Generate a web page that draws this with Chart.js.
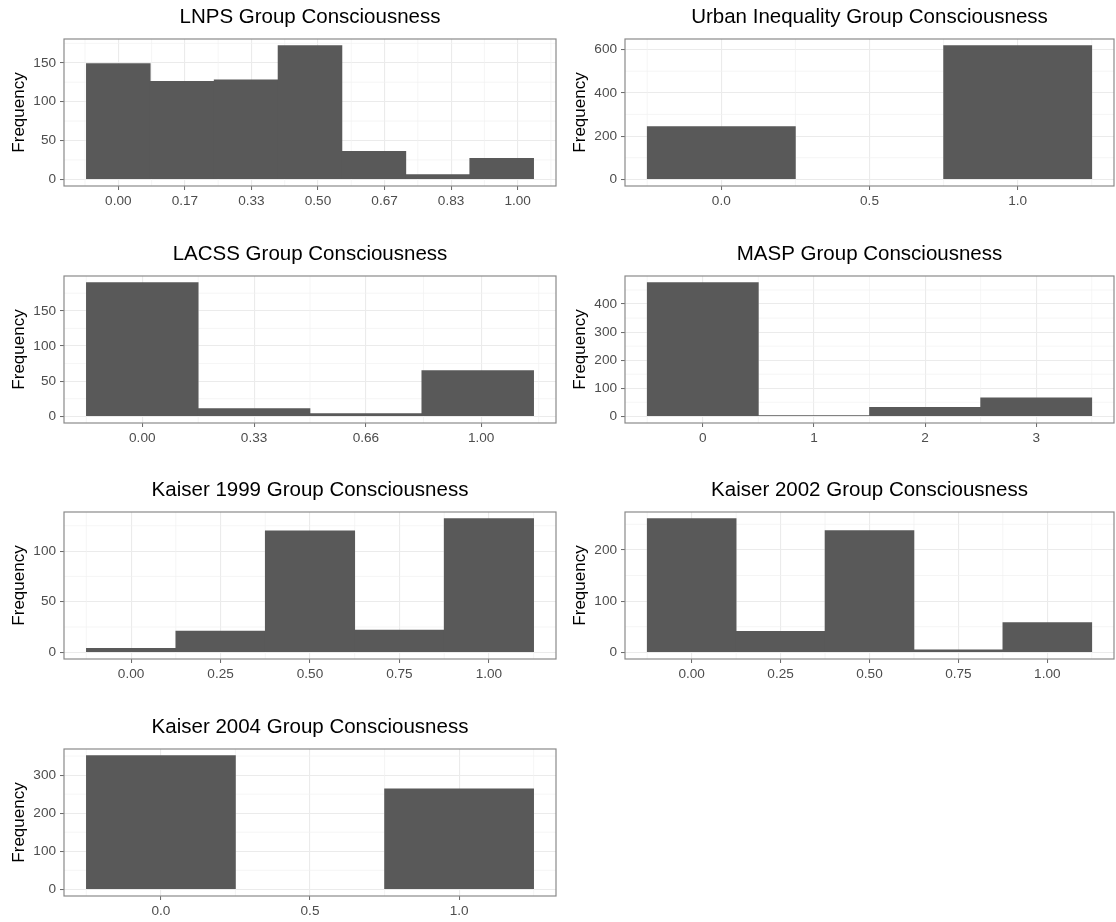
<!DOCTYPE html>
<html>
<head>
<meta charset="utf-8">
<title>Group Consciousness histograms</title>
<script src="https://cdn.jsdelivr.net/npm/chart.js@4.4.0/dist/chart.umd.min.js"></script>
<style>
  html, body { margin: 0; padding: 0; background: #fff; overflow: hidden; }
  canvas { position: absolute; }
</style>
</head>
<body>
<canvas id="lnps" width="558" height="237" style="left:0;top:0"></canvas>
<canvas id="urban" width="555" height="237" style="left:561px;top:0"></canvas>
<canvas id="lacss" width="558" height="237" style="left:0;top:237px"></canvas>
<canvas id="masp" width="555" height="237" style="left:561px;top:237px"></canvas>
<canvas id="k1999" width="558" height="237" style="left:0;top:473px"></canvas>
<canvas id="k2002" width="555" height="237" style="left:561px;top:473px"></canvas>
<canvas id="k2004" width="558" height="237" style="left:0;top:710px"></canvas>
<script>
// bin centres, counts and axis breaks
const lnpsBins = [0, 0.16, 0.32, 0.48, 0.64, 0.80, 0.96];
const lnpsCounts = [149, 126, 128, 172, 36, 6, 27];
const lnpsXTicks = [0, 0.1667, 0.3333, 0.5, 0.6667, 0.8333, 1];
const lnpsXLabels = ['0.00', '0.17', '0.33', '0.50', '0.67', '0.83', '1.00'];
const lnpsYTicks = [0, 50, 100, 150];

const urbanBins = [0, 0.5, 1];
const urbanCounts = [244, 0, 618];
const urbanXTicks = [0, 0.5, 1];
const urbanXLabels = ['0.0', '0.5', '1.0'];
const urbanYTicks = [0, 200, 400, 600];

const lacssBins = [0, 0.33, 0.66, 0.99];
const lacssCounts = [190, 11, 4, 65];
const lacssXTicks = [0, 0.33, 0.66, 1];
const lacssXLabels = ['0.00', '0.33', '0.66', '1.00'];
const lacssYTicks = [0, 50, 100, 150];

const maspBins = [0, 1, 2, 3];
const maspCounts = [476, 3, 32, 66];
const maspXTicks = [0, 1, 2, 3];
const maspXLabels = ['0', '1', '2', '3'];
const maspYTicks = [0, 100, 200, 300, 400];

const k1999Bins = [0, 0.25, 0.5, 0.75, 1];
const k1999Counts = [4, 21, 120, 22, 132];
const k1999XTicks = [0, 0.25, 0.5, 0.75, 1];
const k1999XLabels = ['0.00', '0.25', '0.50', '0.75', '1.00'];
const k1999YTicks = [0, 50, 100];

const k2002Bins = [0, 0.25, 0.5, 0.75, 1];
const k2002Counts = [261, 41, 238, 5, 58];
const k2002XTicks = [0, 0.25, 0.5, 0.75, 1];
const k2002XLabels = ['0.00', '0.25', '0.50', '0.75', '1.00'];
const k2002YTicks = [0, 100, 200];

const k2004Bins = [0, 0.5, 1];
const k2004Counts = [351, 0, 264];
const k2004XTicks = [0, 0.5, 1];
const k2004XLabels = ['0.0', '0.5', '1.0'];
const k2004YTicks = [0, 100, 200, 300];

const FONT = "'Liberation Sans', Arial, Helvetica, sans-serif";

// midpoints between breaks (and half a step outside) like ggplot's minor grid
function minorValues(major, min, max) {
  const out = [];
  for (let i = 0; i < major.length - 1; i++) out.push((major[i] + major[i + 1]) / 2);
  const n = major.length;
  out.unshift(major[0] - (major[1] - major[0]) / 2);
  out.push(major[n - 1] + (major[n - 1] - major[n - 2]) / 2);
  return out.filter(v => v > min && v < max);
}

const minorGrid = {
  id: 'minorGrid',
  beforeDatasetsDraw(chart) {
    const {ctx, chartArea: a, scales: {x, y}} = chart;
    ctx.save();
    ctx.strokeStyle = '#f0f0f0';
    ctx.lineWidth = 0.7;
    ctx.beginPath();
    minorValues(x.ticks.map(t => t.value), x.min, x.max).forEach(v => {
      const p = x.getPixelForValue(v);
      ctx.moveTo(p, a.top); ctx.lineTo(p, a.bottom);
    });
    minorValues(y.ticks.map(t => t.value), y.min, y.max).forEach(v => {
      const p = y.getPixelForValue(v);
      ctx.moveTo(a.left, p); ctx.lineTo(a.right, p);
    });
    ctx.stroke();
    ctx.restore();
  }
};

const panelBorder = {
  id: 'panelBorder',
  afterDatasetsDraw(chart) {
    const {ctx, chartArea: a} = chart;
    ctx.save();
    ctx.strokeStyle = '#8a8a8a';
    ctx.lineWidth = 1.2;
    ctx.strokeRect(a.left, a.top, a.right - a.left, a.bottom - a.top);
    ctx.restore();
  }
};

function makeChart(id, title, bins, counts, xTicks, xLabels, yTicks) {
  let w = Infinity;
  for (let i = 1; i < bins.length; i++) w = Math.min(w, bins[i] - bins[i - 1]);
  const lo = bins[0] - w / 2, hi = bins[bins.length - 1] + w / 2;
  const xPad = (hi - lo) * 0.05;
  const yMax = Math.max(...counts);

  return new Chart(document.getElementById(id), {
    type: 'bar',
    data: {
      datasets: [{
        // empty bins are left out so no zero-height sliver is drawn
        data: bins.map((b, i) => ({x: b, y: counts[i] > 0 ? counts[i] : null})),
        backgroundColor: '#595959',
        borderWidth: 0,
        barPercentage: 1,
        categoryPercentage: 1
      }]
    },
    options: {
      responsive: false,
      animation: false,
      devicePixelRatio: 1,
      layout: {padding: {top: 0, left: 0, right: 2, bottom: 0}},
      plugins: {
        legend: {display: false},
        tooltip: {enabled: false},
        title: {
          display: true,
          text: title,
          color: '#000',
          fullSize: false,
          font: {family: FONT, size: 20.5, weight: 'normal', lineHeight: 1.2},
          padding: {top: 5, bottom: 9.4}
        }
      },
      scales: {
        x: {
          type: 'linear',
          offset: false,
          min: lo - xPad,
          max: hi + xPad,
          afterBuildTicks: s => { s.ticks = xTicks.map((v, i) => ({value: v, text: xLabels[i]})); },
          afterFit: s => { s.height = 51; },
          ticks: {
            callback: (v, i, t) => t[i].text,
            autoSkip: false, maxRotation: 0,
            color: '#4d4d4d',
            font: {family: FONT, size: 13.6},
            padding: 3.5
          },
          grid: {offset: false, color: '#ebebeb', lineWidth: 1.1, tickLength: 4, tickColor: '#666', tickWidth: 1},
          border: {display: false}
        },
        y: {
          type: 'linear',
          min: -yMax * 0.05,
          max: yMax * 1.05,
          afterBuildTicks: s => { s.ticks = yTicks.map(v => ({value: v, text: String(v)})); },
          afterFit: s => { s.width = 64; },
          ticks: {
            callback: (v, i, t) => t[i].text,
            autoSkip: false,
            color: '#4d4d4d',
            font: {family: FONT, size: 13.6},
            padding: 4
          },
          title: {
            display: true,
            text: 'Frequency',
            color: '#000',
            font: {family: FONT, size: 17, lineHeight: 1.2},
            padding: {top: 9, bottom: 0}
          },
          grid: {color: '#ebebeb', lineWidth: 1.1, tickLength: 4, tickColor: '#666', tickWidth: 1},
          border: {display: false}
        }
      }
    },
    plugins: [minorGrid, panelBorder]
  });
}

makeChart('lnps', 'LNPS Group Consciousness', lnpsBins, lnpsCounts, lnpsXTicks, lnpsXLabels, lnpsYTicks);
makeChart('urban', 'Urban Inequality Group Consciousness', urbanBins, urbanCounts, urbanXTicks, urbanXLabels, urbanYTicks);
makeChart('lacss', 'LACSS Group Consciousness', lacssBins, lacssCounts, lacssXTicks, lacssXLabels, lacssYTicks);
makeChart('masp', 'MASP Group Consciousness', maspBins, maspCounts, maspXTicks, maspXLabels, maspYTicks);
makeChart('k1999', 'Kaiser 1999 Group Consciousness', k1999Bins, k1999Counts, k1999XTicks, k1999XLabels, k1999YTicks);
makeChart('k2002', 'Kaiser 2002 Group Consciousness', k2002Bins, k2002Counts, k2002XTicks, k2002XLabels, k2002YTicks);
makeChart('k2004', 'Kaiser 2004 Group Consciousness', k2004Bins, k2004Counts, k2004XTicks, k2004XLabels, k2004YTicks);
</script>
</body>
</html>
